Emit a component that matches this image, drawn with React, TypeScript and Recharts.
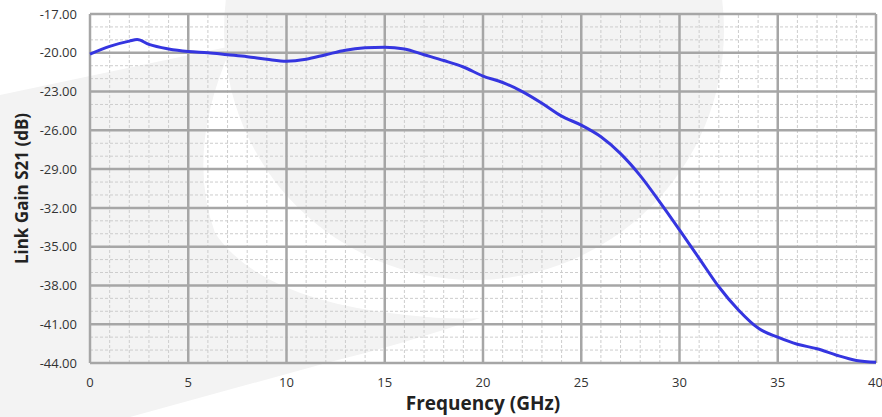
import React from 'react';
import { LineChart, Line, XAxis, YAxis, ReferenceLine, Label } from 'recharts';

// frequency sweep (GHz) and measured link gain (dB)
const freq = [0, 1, 2, 2.4, 3, 4, 5, 6, 7, 8, 9, 10, 11, 12, 13, 14, 15, 16, 17, 18, 19, 20,
  21, 22, 23, 24, 25, 26, 27, 28, 29, 30, 31, 32, 33, 34, 35, 36, 37, 38, 39, 40];
const gain = [-20.1, -19.5, -19.1, -18.98, -19.35, -19.7, -19.9, -20.0, -20.15, -20.3, -20.5, -20.65,
  -20.5, -20.15, -19.8, -19.62, -19.57, -19.7, -20.15, -20.6, -21.1, -21.8,
  -22.3, -23.0, -23.9, -24.9, -25.6, -26.5, -27.8, -29.5, -31.55, -33.7, -35.9, -38.1, -39.9, -41.3,
  -42.0, -42.55, -42.9, -43.4, -43.8, -43.95];

const xMajor = [0, 5, 10, 15, 20, 25, 30, 35, 40];
const xMinor = [1, 2, 3, 4, 6, 7, 8, 9, 11, 12, 13, 14, 16, 17, 18, 19, 21, 22, 23, 24,
  26, 27, 28, 29, 31, 32, 33, 34, 36, 37, 38, 39];
const yMajor = [-17, -20, -23, -26, -29, -32, -35, -38, -41, -44];
const yMinor = [-18, -19, -21, -22, -24, -25, -27, -28, -30, -31, -33, -34, -36, -37, -39, -40, -42, -43];

const data = freq.map((f, i) => ({ f, g: gain[i] }));

const tickStyle = { fontSize: 13, fill: '#333', fontFamily: 'Open Sans' };

function Watermark() {
  return (
    <svg width={882} height={417} style={{ position: 'absolute', left: 0, top: 0 }}>
      <circle cx={474} cy={30} r={250} fill="#f3f3f3" />
      <path
        d="M0 95 L232 46 Q185 150 215 233 Q260 300 406 315 Q450 320 480 318 Q400 345 330 362 L130 417 L0 417 Z"
        fill="#f3f3f3"
      />
    </svg>
  );
}

export default function App() {
  return (
    <div style={{ position: 'absolute', left: 0, top: 0, width: 882, height: 417, background: '#fff' }}>
      <Watermark />
      <div style={{ position: 'absolute', left: 0, top: 0 }}>
        <LineChart width={882} height={417} data={data} margin={{ top: 14, right: 6, bottom: 0, left: 0 }}>
          <XAxis
            dataKey="f"
            type="number"
            domain={[0, 40]}
            ticks={xMajor}
            axisLine={false}
            tickLine={false}
            tickMargin={9}
            height={54}
            tick={tickStyle}
          >
            <Label
              value="Frequency (GHz)"
              position="insideBottom"
              offset={7}
              style={{ fontSize: 19, fontWeight: 700, fill: '#222', fontFamily: 'Open Sans' }}
            />
          </XAxis>
          <YAxis
            type="number"
            domain={[-44, -17]}
            ticks={yMajor}
            tickFormatter={(v: number) => v.toFixed(2)}
            axisLine={false}
            tickLine={false}
            tickMargin={7}
            width={90}
            tick={tickStyle}
          >
            <Label
              content={({ viewBox }: any) => {
                const cy = viewBox.y + viewBox.height / 2;
                return (
                  <text
                    x={21}
                    y={cy}
                    transform={`rotate(-90 21 ${cy})`}
                    textAnchor="middle"
                    dominantBaseline="central"
                    style={{ fontSize: 17, fontWeight: 700, fill: '#222', fontFamily: 'Open Sans' }}
                  >
                    Link Gain S21 (dB)
                  </text>
                );
              }}
            />
          </YAxis>
          {xMinor.map((v) => (
            <ReferenceLine key={'xm' + v} x={v} stroke="#cdcdcd" strokeDasharray="3 2" strokeWidth={1} />
          ))}
          {yMinor.map((v) => (
            <ReferenceLine key={'ym' + v} y={v} stroke="#cdcdcd" strokeDasharray="3 2" strokeWidth={1} />
          ))}
          {xMajor.map((v) => (
            <ReferenceLine key={'xM' + v} x={v} stroke="#a6a6a6" strokeWidth={2.5} />
          ))}
          {yMajor.map((v) => (
            <ReferenceLine key={'yM' + v} y={v} stroke="#a6a6a6" strokeWidth={2.5} />
          ))}
          <Line
            dataKey="g"
            type="monotone"
            stroke="#3535e0"
            strokeWidth={3}
            dot={false}
            isAnimationActive={false}
          />
        </LineChart>
      </div>
    </div>
  );
}
